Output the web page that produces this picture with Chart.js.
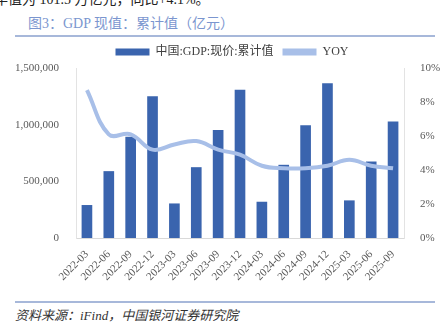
<!DOCTYPE html>
<html>
<head>
<meta charset="utf-8">
<script src="https://cdn.jsdelivr.net/npm/chart.js@4/dist/chart.umd.min.js"></script>
<style>
  html, body { margin: 0; padding: 0; background: #fff; }
  body { width: 442px; height: 332px; position: relative; overflow: hidden;
         font-family: "Liberation Serif", "Noto Sans CJK SC", serif; }
  .topline { position: absolute; left: -6px; top: -12px; font-size: 14px; color: #222; white-space: nowrap; }
  .title { position: absolute; left: 28px; top: 12px; font-size: 14px; color: #7b96cf; white-space: nowrap; }
  .rule { position: absolute; left: 15px; width: 420px; height: 2px; background: #a7b8da; }
  .source { position: absolute; left: 15px; top: 305px; font-size: 13px; font-style: italic; color: #333; white-space: nowrap; }
  #wrap { position: absolute; left: 0px; top: 37px; width: 464px; height: 253px; }
</style>
</head>
<body>
<div class="topline">年值为 101.5 万亿元，同比+4.1%。</div>
<div class="title">图3：GDP 现值：累计值（亿元）</div>
<div class="rule" style="top:35px"></div>
<div id="wrap"><canvas id="c"></canvas></div>
<div class="rule" style="top:301px"></div>
<div class="source">资料来源：iFind，中国银河证券研究院</div>
<script>
const categories = ["2022-03","2022-06","2022-09","2022-12","2023-03","2023-06","2023-09","2023-12","2024-03","2024-06","2024-09","2024-12","2025-03","2025-06","2025-09"];
const gdpCumulative = [288000, 587000, 890000, 1247000, 302000, 622000, 950000, 1305000, 317000, 643000, 992000, 1363000, 329000, 672000, 1026000];
const yoy = [8.7, 6.1, 6.1, 5.2, 5.5, 5.7, 5.2, 4.9, 4.25, 4.1, 4.1, 4.25, 4.6, 4.25, 4.1];
const leftTicks = [0, 500000, 1000000, 1500000];
const rightTicks = [0, 2, 4, 6, 8, 10];

const tickFont = { family: "'Liberation Serif', 'Noto Sans CJK SC', serif", size: 11 };
const tickColor = '#595959';

new Chart(document.getElementById('c'), {
  data: {
    labels: categories,
    datasets: [
      { type: 'line', label: 'YOY', data: yoy, yAxisID: 'yR',
        borderColor: '#a8bfe8', backgroundColor: '#a8bfe8', borderWidth: 4,
        pointRadius: 0, tension: 0.4, order: 0 },
      { type: 'bar', label: '中国:GDP:现价:累计值', data: gdpCumulative, yAxisID: 'yL',
        backgroundColor: '#3a64ae', borderColor: '#3a64ae', barThickness: 10, order: 1 }
    ]
  },
  options: {
    responsive: true, maintainAspectRatio: false, animation: false,
    layout: { padding: 0 },
    plugins: {
      tooltip: { enabled: false },
      legend: {
        display: true, position: 'top', reverse: true,
        labels: {
          font: { family: "'Liberation Serif', 'Noto Sans CJK SC', serif", size: 12 },
          color: '#404040', boxWidth: 34, boxHeight: 7, padding: 9,
          generateLabels(chart) {
            return chart.data.datasets.map((ds, i) => ({
              text: ds.label, fillStyle: ds.backgroundColor, strokeStyle: ds.backgroundColor,
              lineWidth: 0, hidden: false, datasetIndex: i, fontColor: '#404040'
            }));
          }
        }
      }
    },
    scales: {
      x: {
        offset: true,
        grid: { display: false },
        border: { display: true, color: '#d9d9d9', width: 1 },
        ticks: { font: tickFont, color: tickColor, maxRotation: 45, minRotation: 45, autoSkip: false, padding: 2 },
        afterFit(s) { s.height = 52; }
      },
      yL: {
        position: 'left', min: 0, max: 1500000,
        grid: { display: false },
        border: { display: true, color: '#e3e3e3', width: 1 },
        afterBuildTicks(s) { s.ticks = leftTicks.map(v => ({ value: v })); },
        ticks: { font: tickFont, color: tickColor, padding: 9,
          callback: v => v.toLocaleString('en-US') },
        afterFit(s) { s.width = 76; }
      },
      yR: {
        position: 'right', min: 0, max: 10,
        grid: { display: false },
        border: { display: true, color: '#e3e3e3', width: 1 },
        afterBuildTicks(s) { s.ticks = rightTicks.map(v => ({ value: v })); },
        ticks: { font: tickFont, color: tickColor, padding: 8, callback: v => v + '%' },
        afterFit(s) { s.width = 60; }
      }
    }
  }
});
</script>
</body>
</html>
